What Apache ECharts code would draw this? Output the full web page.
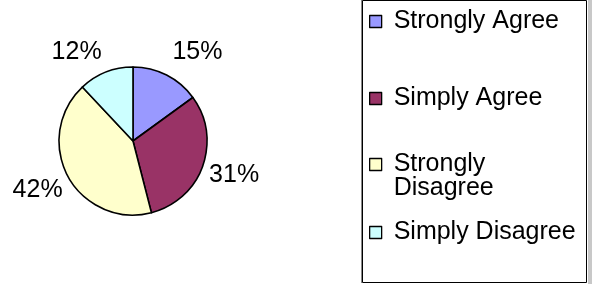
<!DOCTYPE html>
<html>
<head>
<meta charset="utf-8">
<script src="https://cdn.jsdelivr.net/npm/echarts@6/dist/echarts.min.js"></script>
<style>
	html, body { margin: 0; padding: 0; background: #fff; }
	#chart { width: 592px; height: 284px; }
</style>
</head>
<body>
<div id="chart"></div>
<script>
// 数据
var categories = ['Strongly Agree', 'Simply Agree', 'Strongly Disagree', 'Simply Disagree'];
var values = [15, 31, 42, 12];

// 样式
var colors = ['#9999FF', '#993366', '#FFFFCC', '#CCFFFF'];
var font = '"Liberation Sans", Arial, sans-serif';
// label offsets per slice: [line length, distance]
var labelPos = [[26, -6], [26, -18], [28, -19], [22, -4]];
// legend entry tops
var legendTops = [9, 86, 128, 220];

var myChart = echarts.init(document.getElementById('chart'), null, { renderer: 'canvas' });

var pieData = categories.map(function (name, i) {
	return {
		name: name,
		value: values[i],
		itemStyle: { color: colors[i] },
		label: { distanceToLabelLine: labelPos[i][1] },
		labelLine: { length: labelPos[i][0], length2: 0 }
	};
});

// 每个图例单独放置
var legends = categories.map(function (name, i) {
	return {
		orient: 'vertical',
		left: 369,
		top: legendTops[i],
		padding: 0,
		itemWidth: 12,
		itemHeight: 12,
		icon: 'rect',
		selectedMode: false,
		data: [name],
		itemStyle: { borderColor: '#000', borderWidth: 1.3 },
		formatter: function (n) {
			// 两行文字：首行与图标对齐
			return n === 'Strongly Disagree' ? '\nStrongly\nDisagree' : n;
		},
		textStyle: {
			fontFamily: font,
			fontSize: 25,
			lineHeight: 24,
			color: '#000',
			padding: [0, 0, 0, 7]
		}
	};
});

var option = {
	animation: false,
	backgroundColor: '#fff',
	legend: legends,
	graphic: [
		{
			type: 'rect',
			shape: { x: 362.5, y: 0.5, width: 224, height: 282 },
			style: { fill: 'none', stroke: '#000', lineWidth: 1 },
			z: -1
		},
		{
			type: 'rect',
			shape: { x: 361, y: 0, width: 1, height: 283 },
			style: { fill: '#888' },
			z: -1
		},
		{
			type: 'rect',
			shape: { x: 588, y: 0, width: 4, height: 284 },
			style: { fill: '#c8c8c8' },
			z: -1
		}
	],
	series: [{
		type: 'pie',
		center: [133, 141],
		radius: 74,
		startAngle: 90,
		clockwise: true,
		avoidLabelOverlap: false,
		itemStyle: { borderColor: '#000', borderWidth: 1.6 },
		emphasis: { disabled: true },
		label: {
			show: true,
			position: 'outside',
			formatter: '{c}%',
			fontFamily: font,
			fontSize: 25,
			color: '#000'
		},
		labelLine: { show: false },
		data: pieData
	}]
};

myChart.setOption(option);
</script>
</body>
</html>
